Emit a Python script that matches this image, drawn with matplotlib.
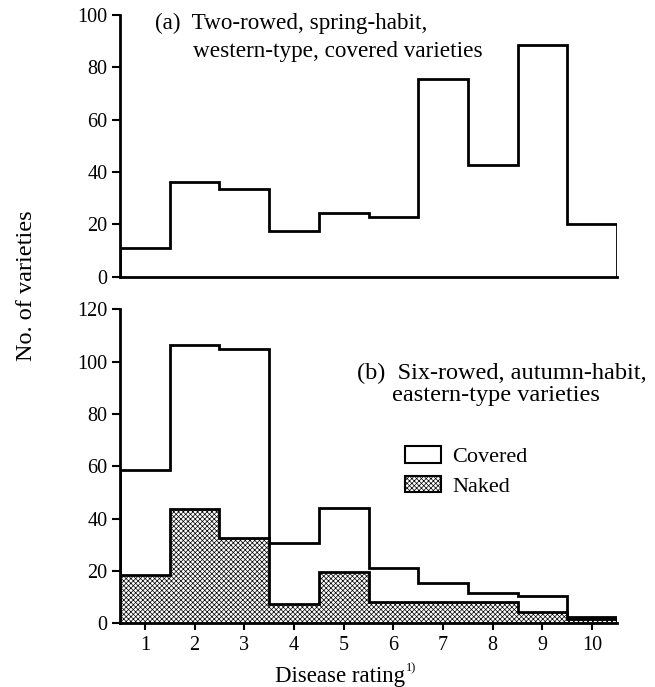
import matplotlib
matplotlib.use("Agg")
import matplotlib.pyplot as plt
from matplotlib.patches import Patch
import numpy as np

plt.rcParams['font.family'] = ['Liberation Serif', 'DejaVu Serif']
plt.rcParams['hatch.linewidth'] = 0.5

ratings = [1, 2, 3, 4, 5, 6, 7, 8, 9, 10]
top_covered = [11, 36, 33.5, 17.5, 24.5, 23, 75.5, 42.5, 88.5, 20]
bot_covered = [58.5, 106.5, 105, 30.5, 44, 21, 15.5, 11.5, 10.5, 2.5]
bot_naked = [18.5, 43.5, 32.5, 7.5, 19.5, 8, 8, 8, 4.3, 1.5]
top_yticks = [0, 20, 40, 60, 80, 100]
bot_yticks = [0, 20, 40, 60, 80, 100, 120]

edges = np.arange(len(ratings) + 1) + 0.5

W, H = 655, 687
fig = plt.figure(figsize=(W / 100, H / 100), dpi=100)

def fx(px):
    return px / W

def fy(py):
    return 1 - py / H

ax1 = fig.add_axes([fx(120), fy(276.7), fx(617) - fx(120), fy(15) - fy(276.7)])
ax2 = fig.add_axes([fx(120), fy(623.3), fx(617) - fx(120), fy(309.3) - fy(623.3)])

LW = 2.0
HATCH = 'xxxxxxx'
for ax in (ax1, ax2):
    for s in ('top', 'right'):
        ax.spines[s].set_visible(False)
    for s in ('left', 'bottom'):
        ax.spines[s].set_linewidth(LW)
    ax.set_xlim(0.5, 10.5)
    ax.tick_params(axis='y', direction='out', length=6, width=1.5, pad=3, labelsize=14.5)
    ax.tick_params(axis='x', direction='out', length=5, width=1.5, pad=4, labelsize=14.5)

# top panel
ax1.stairs(top_covered, edges, baseline=0, color='black', linewidth=LW)
ax1.set_ylim(0, 100)
ax1.set_yticks(top_yticks)
ax1.set_xticks([])
ax1.text(fx(155), fy(23), "(a)  Two-rowed, spring-habit,", transform=fig.transFigure,
         fontsize=16.7, ha='left', va='center')
ax1.text(fx(193), fy(52), "western-type, covered varieties", transform=fig.transFigure,
         fontsize=16.7, ha='left', va='center')

# bottom panel
ax2.stairs(bot_covered, edges, baseline=0, color='black', linewidth=LW)
ax2.stairs(bot_naked, edges, baseline=0, fill=True, facecolor='white',
           edgecolor='black', hatch=HATCH, linewidth=LW)
ax2.set_ylim(0, 120)
ax2.set_yticks(bot_yticks)
ax2.set_xticks(ratings)
ax2.set_xticklabels([str(r) for r in ratings])
ax2.text(fx(357), fy(373), "(b)  Six-rowed, autumn-habit,", transform=fig.transFigure,
         fontsize=17.5, ha='left', va='center')
ax2.text(fx(392), fy(396), "eastern-type varieties", transform=fig.transFigure,
         fontsize=17.5, ha='left', va='center')

handles = [Patch(facecolor='white', edgecolor='black', linewidth=1.5),
           Patch(facecolor='white', edgecolor='black', hatch=HATCH, linewidth=1.5)]
ax2.legend(handles, ['Covered', 'Naked'], loc='upper left',
           bbox_to_anchor=(fx(405), fy(446)), bbox_transform=fig.transFigure,
           frameon=False, fontsize=16, borderaxespad=0, borderpad=0,
           handlelength=1.62, handleheight=0.77, handletextpad=0.5, labelspacing=0.4)

xl = fig.text(fx(340), fy(682), "Disease rating", fontsize=16.5, ha='center', va='baseline')
fig.canvas.draw()
bb = xl.get_window_extent()
fig.text((bb.x1 + 1) / fig.bbox.width, fy(671), "1)", fontsize=9, ha='left', va='baseline')

fig.text(fx(27), fy(286), "No. of varieties", fontsize=17.5, rotation=90, ha='center', va='center')

fig.savefig("out.png", dpi=100)
